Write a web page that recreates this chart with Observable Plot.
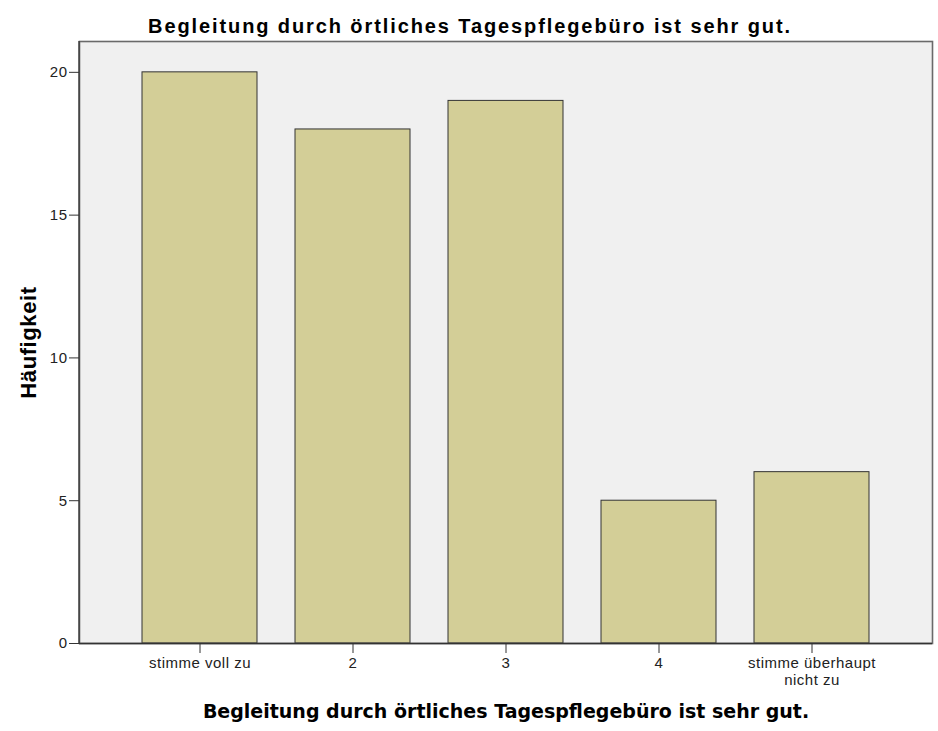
<!DOCTYPE html>
<html>
<head>
<meta charset="utf-8">
<script src="https://cdn.jsdelivr.net/npm/d3@7"></script>
<script src="https://cdn.jsdelivr.net/npm/@observablehq/plot@0.6"></script>
<style>
  html, body { margin: 0; padding: 0; background: #fff; }
  g[aria-label="x-axis tick label"] text, g[aria-label="y-axis tick label"] text { letter-spacing: 0.5px; }
  g[aria-description="title"] text { letter-spacing: 1.9px; }
  g[aria-description="ylabel"] text { letter-spacing: 0.6px; }
</style>
</head>
<body>
<div id="chart"></div>
<script>
const categories = ["stimme voll zu", "2", "3", "4", "stimme überhaupt nicht zu"];
const counts = [20, 18, 19, 5, 6];
const tickLabels = ["stimme voll zu", "2", "3", "4", "stimme überhaupt\nnicht zu"];
const yTicks = [0, 5, 10, 15, 20];
const titleText = "Begleitung durch örtliches Tagespflegebüro ist sehr gut.";
const xLabel = "Begleitung durch örtliches Tagespflegebüro ist sehr gut.";
const yLabel = "Häufigkeit";

const data = categories.map((c, i) => ({category: c, count: counts[i]}));
const labelOf = new Map(categories.map((c, i) => [c, tickLabels[i]]));

const chart = Plot.plot({
  width: 938,
  height: 731,
  marginLeft: 79,
  marginRight: 6,
  marginTop: 41,
  marginBottom: 88,
  style: {fontFamily: "'Liberation Sans', Arial, sans-serif", fontSize: "15px", color: "#222", background: "#fff"},
  x: {domain: categories, paddingInner: 0.25, paddingOuter: 0.41, label: null},
  y: {domain: [0, 21.08], label: null},
  marks: [
    Plot.frame({fill: "#f0f0f0", stroke: null}),
    Plot.barY(data, {x: "category", y: "count", fill: "#d3ce97", stroke: "#333", strokeWidth: 1}),
    Plot.frame({stroke: "#6a6a6a", strokeWidth: 1.6, fill: "none"}),
    Plot.ruleY([0], {stroke: "#333", strokeWidth: 1.3}),
    Plot.axisY({ticks: yTicks, tickSize: 10, tickPadding: 2, tickFormat: d => String(d), label: null, stroke: "#333"}),
    Plot.axisX({tickSize: 10, tickPadding: 3, tickFormat: d => labelOf.get(d), label: null, stroke: "#333", lineHeight: 1.1}),
    Plot.text([titleText], {text: d => d, frameAnchor: "top", dy: -23, dx: -36, fontSize: 20, fontWeight: "bold", fill: "#000", ariaDescription: "title"}),
    Plot.text([xLabel], {text: d => d, frameAnchor: "bottom", dy: 74, fontSize: 19, fontWeight: "bold", fill: "#000", fontFamily: "'DejaVu Sans', sans-serif"}),
    Plot.text([yLabel], {text: d => d, frameAnchor: "left", textAnchor: "middle", dx: -51, rotate: -90, fontSize: 22, fontWeight: "bold", fill: "#000", ariaDescription: "ylabel"})
  ]
});
// left axis line
d3.select(chart).append("line")
  .attr("x1", 79).attr("x2", 79).attr("y1", 41).attr("y2", 643)
  .attr("stroke", "#333").attr("stroke-width", 1.3);
document.getElementById("chart").appendChild(chart);
</script>
</body>
</html>
